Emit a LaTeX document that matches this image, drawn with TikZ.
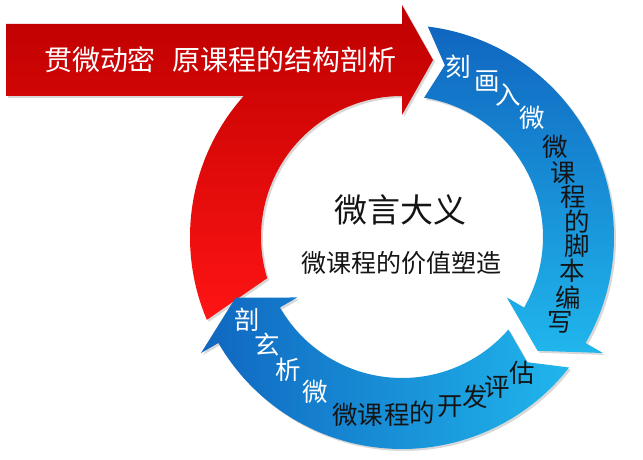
\documentclass[tikz,border=0pt]{standalone}
\usepackage{fontspec}
\newfontfamily\cjk{Noto Sans CJK SC}
\usetikzlibrary{shadows}
\definecolor{redtop}{RGB}{190,0,0}
\definecolor{redbot}{RGB}{255,20,20}
\definecolor{bluedark}{RGB}{16,102,192}
\definecolor{bluelight}{RGB}{32,182,236}
\definecolor{txtdark}{RGB}{20,20,20}
\tikzset{
  arrowshape/.style={drop shadow={opacity=0.3,shadow xshift=2pt,shadow yshift=-2pt}},
  wtxt/.style={text=white,inner sep=0pt,font=\cjk\fontsize{25.5}{25.5}\selectfont},
  btxt/.style={text=txtdark,inner sep=0pt,font=\cjk\fontsize{25.5}{25.5}\selectfont},
  bannertxt/.style={text=white,inner sep=0pt,font=\cjk\fontsize{28}{28}\selectfont},
}
\begin{document}
\begin{tikzpicture}[x=1pt,y=1pt]
\useasboundingbox (0,0) rectangle (643,460);
\fill[white] (0,0) rectangle (643,460);
\begin{scope}[shift={(402,223)}]
  % red banner + arc
  \path[arrowshape,top color=redtop,bottom color=redbot]
    (-396,213) -- (0,213) -- (0,232) -- (31,177) -- (0,122) -- (0,141)
    arc[start angle=90,end angle=197,radius=141]
    -- (203:212) arc[start angle=203,end angle=138.3,radius=212]
    -- (-396,141) -- cycle;
  % bottom blue arc
  \path[arrowshape,left color=bluedark,right color=bluelight]
    (-38:212) arc[start angle=-38,end angle=-150,radius=212]
    -- (-150:232) -- (-160:177) -- (-150:121) -- (-150:141)
    arc[start angle=-150,end angle=-41,radius=141]
    -- (-45:177) -- cycle;
  % right blue arc
  \path[arrowshape,top color=bluedark,bottom color=bluelight]
    (83:212) arc[start angle=83,end angle=-30,radius=212]
    -- (-30:232) -- (-40:177) -- (-30:121) -- (-30:141)
    arc[start angle=-30,end angle=81,radius=141]
    -- (76:177) -- cycle;
\end{scope}
% banner text
\node[bannertxt] (b1) at (100,400) {贯微动密};
\node[bannertxt] (b2) at (284.5,400) {原课程的结构剖析};
% centre text
\node[text=txtdark,inner sep=0pt,font=\cjk\fontsize{33}{33}\selectfont] (c1) at (400,250) {微言大义};
\node[text=txtdark,inner sep=0pt,font=\cjk\fontsize{25}{25}\selectfont] (c2) at (401,197) {微课程的价值塑造};
% right arc text
\foreach \x/\y/\c [count=\i] in {458/67/刻,487/82/画,508/95/入,532/118/微}
  \node[wtxt] (rw\i) at (\x,460-\y) {\c};
\foreach \x/\y/\c [count=\i] in {555/147/微,563/173/课,573/197/程,577/222/的,577/246/脚,572/271/本,568/298/编,560/322/写}
  \node[btxt] (rb\i) at (\x,460-\y) {\c};
% bottom arc text
\foreach \x/\y/\c [count=\i] in {247/320/剖,267/345/玄,288/370/析,315/392/微}
  \node[wtxt] (bw\i) at (\x,460-\y) {\c};
\foreach \x/\y/\c [count=\i] in {345/415/微,370/415/课,397/415/程,422/413/的,450/407/开,475/397/发,497/387/评,522/373/估}
  \node[btxt] (bb\i) at (\x,460-\y) {\c};
\end{tikzpicture}
\end{document}
